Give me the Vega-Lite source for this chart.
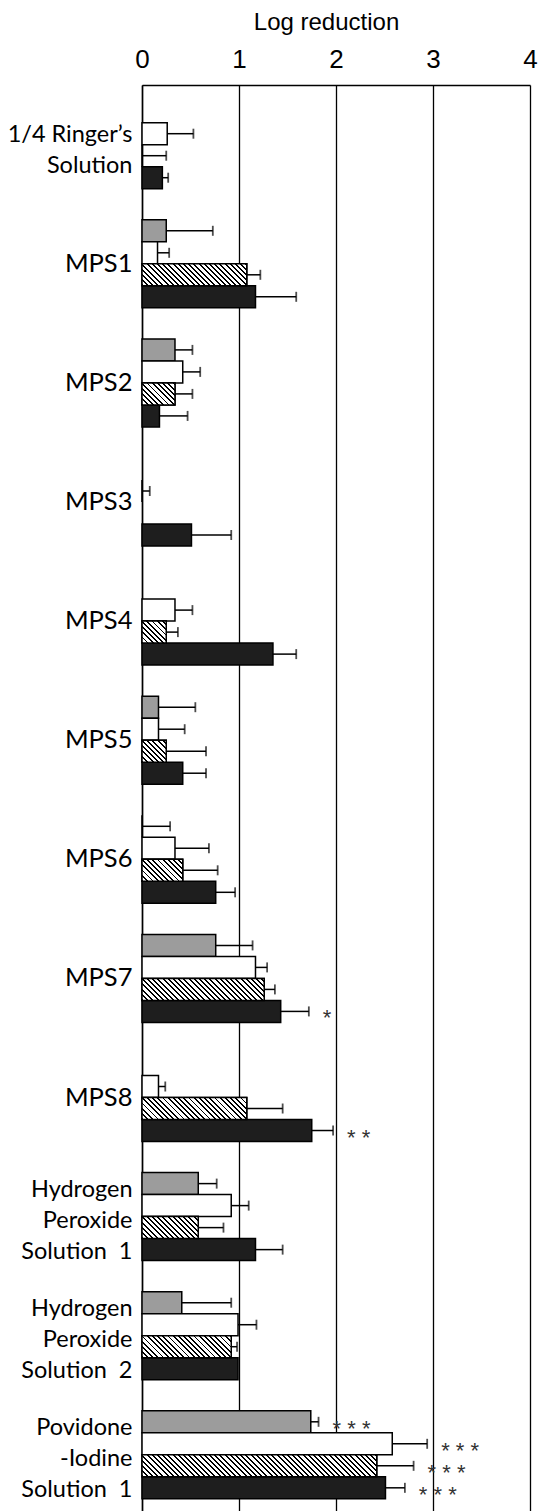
{
  "$schema": "https://vega.github.io/schema/vega-lite/v6.json",
  "autosize": "none",
  "padding": {"left": 142, "top": 85, "right": 8, "bottom": 0},
  "width": 388,
  "height": 1426,
  "background": "white",
  "config": {"view": {"stroke": null}},
  "params": [{"name": "hs", "value": [
    {"offset":0,"color":"#000"},{"offset":0.007,"color":"#000"},{"offset":0.007,"color":"#fff"},{"offset":0.02,"color":"#fff"},
    {"offset":0.02,"color":"#000"},{"offset":0.027,"color":"#000"},{"offset":0.027,"color":"#fff"},{"offset":0.04,"color":"#fff"},
    {"offset":0.04,"color":"#000"},{"offset":0.047,"color":"#000"},{"offset":0.047,"color":"#fff"},{"offset":0.06,"color":"#fff"},
    {"offset":0.06,"color":"#000"},{"offset":0.067,"color":"#000"},{"offset":0.067,"color":"#fff"},{"offset":0.08,"color":"#fff"},
    {"offset":0.08,"color":"#000"},{"offset":0.087,"color":"#000"},{"offset":0.087,"color":"#fff"},{"offset":0.1,"color":"#fff"},
    {"offset":0.1,"color":"#000"},{"offset":0.107,"color":"#000"},{"offset":0.107,"color":"#fff"},{"offset":0.12,"color":"#fff"},
    {"offset":0.12,"color":"#000"},{"offset":0.127,"color":"#000"},{"offset":0.127,"color":"#fff"},{"offset":0.14,"color":"#fff"},
    {"offset":0.14,"color":"#000"},{"offset":0.147,"color":"#000"},{"offset":0.147,"color":"#fff"},{"offset":0.16,"color":"#fff"},
    {"offset":0.16,"color":"#000"},{"offset":0.167,"color":"#000"},{"offset":0.167,"color":"#fff"},{"offset":0.18,"color":"#fff"},
    {"offset":0.18,"color":"#000"},{"offset":0.187,"color":"#000"},{"offset":0.187,"color":"#fff"},{"offset":0.2,"color":"#fff"},
    {"offset":0.2,"color":"#000"},{"offset":0.207,"color":"#000"},{"offset":0.207,"color":"#fff"},{"offset":0.22,"color":"#fff"},
    {"offset":0.22,"color":"#000"},{"offset":0.227,"color":"#000"},{"offset":0.227,"color":"#fff"},{"offset":0.24,"color":"#fff"},
    {"offset":0.24,"color":"#000"},{"offset":0.247,"color":"#000"},{"offset":0.247,"color":"#fff"},{"offset":0.26,"color":"#fff"},
    {"offset":0.26,"color":"#000"},{"offset":0.267,"color":"#000"},{"offset":0.267,"color":"#fff"},{"offset":0.28,"color":"#fff"},
    {"offset":0.28,"color":"#000"},{"offset":0.287,"color":"#000"},{"offset":0.287,"color":"#fff"},{"offset":0.3,"color":"#fff"},
    {"offset":0.3,"color":"#000"},{"offset":0.307,"color":"#000"},{"offset":0.307,"color":"#fff"},{"offset":0.32,"color":"#fff"},
    {"offset":0.32,"color":"#000"},{"offset":0.327,"color":"#000"},{"offset":0.327,"color":"#fff"},{"offset":0.34,"color":"#fff"},
    {"offset":0.34,"color":"#000"},{"offset":0.347,"color":"#000"},{"offset":0.347,"color":"#fff"},{"offset":0.36,"color":"#fff"},
    {"offset":0.36,"color":"#000"},{"offset":0.367,"color":"#000"},{"offset":0.367,"color":"#fff"},{"offset":0.38,"color":"#fff"},
    {"offset":0.38,"color":"#000"},{"offset":0.387,"color":"#000"},{"offset":0.387,"color":"#fff"},{"offset":0.4,"color":"#fff"},
    {"offset":0.4,"color":"#000"},{"offset":0.407,"color":"#000"},{"offset":0.407,"color":"#fff"},{"offset":0.42,"color":"#fff"},
    {"offset":0.42,"color":"#000"},{"offset":0.427,"color":"#000"},{"offset":0.427,"color":"#fff"},{"offset":0.44,"color":"#fff"},
    {"offset":0.44,"color":"#000"},{"offset":0.447,"color":"#000"},{"offset":0.447,"color":"#fff"},{"offset":0.46,"color":"#fff"},
    {"offset":0.46,"color":"#000"},{"offset":0.467,"color":"#000"},{"offset":0.467,"color":"#fff"},{"offset":0.48,"color":"#fff"},
    {"offset":0.48,"color":"#000"},{"offset":0.487,"color":"#000"},{"offset":0.487,"color":"#fff"},{"offset":0.5,"color":"#fff"},
    {"offset":0.5,"color":"#000"},{"offset":0.507,"color":"#000"},{"offset":0.507,"color":"#fff"},{"offset":0.52,"color":"#fff"},
    {"offset":0.52,"color":"#000"},{"offset":0.527,"color":"#000"},{"offset":0.527,"color":"#fff"},{"offset":0.54,"color":"#fff"},
    {"offset":0.54,"color":"#000"},{"offset":0.547,"color":"#000"},{"offset":0.547,"color":"#fff"},{"offset":0.56,"color":"#fff"},
    {"offset":0.56,"color":"#000"},{"offset":0.567,"color":"#000"},{"offset":0.567,"color":"#fff"},{"offset":0.58,"color":"#fff"},
    {"offset":0.58,"color":"#000"},{"offset":0.587,"color":"#000"},{"offset":0.587,"color":"#fff"},{"offset":0.6,"color":"#fff"},
    {"offset":0.6,"color":"#000"},{"offset":0.607,"color":"#000"},{"offset":0.607,"color":"#fff"},{"offset":0.62,"color":"#fff"},
    {"offset":0.62,"color":"#000"},{"offset":0.627,"color":"#000"},{"offset":0.627,"color":"#fff"},{"offset":0.64,"color":"#fff"},
    {"offset":0.64,"color":"#000"},{"offset":0.647,"color":"#000"},{"offset":0.647,"color":"#fff"},{"offset":0.66,"color":"#fff"},
    {"offset":0.66,"color":"#000"},{"offset":0.667,"color":"#000"},{"offset":0.667,"color":"#fff"},{"offset":0.68,"color":"#fff"},
    {"offset":0.68,"color":"#000"},{"offset":0.687,"color":"#000"},{"offset":0.687,"color":"#fff"},{"offset":0.7,"color":"#fff"},
    {"offset":0.7,"color":"#000"},{"offset":0.707,"color":"#000"},{"offset":0.707,"color":"#fff"},{"offset":0.72,"color":"#fff"},
    {"offset":0.72,"color":"#000"},{"offset":0.727,"color":"#000"},{"offset":0.727,"color":"#fff"},{"offset":0.74,"color":"#fff"},
    {"offset":0.74,"color":"#000"},{"offset":0.747,"color":"#000"},{"offset":0.747,"color":"#fff"},{"offset":0.76,"color":"#fff"},
    {"offset":0.76,"color":"#000"},{"offset":0.767,"color":"#000"},{"offset":0.767,"color":"#fff"},{"offset":0.78,"color":"#fff"},
    {"offset":0.78,"color":"#000"},{"offset":0.787,"color":"#000"},{"offset":0.787,"color":"#fff"},{"offset":0.8,"color":"#fff"},
    {"offset":0.8,"color":"#000"},{"offset":0.807,"color":"#000"},{"offset":0.807,"color":"#fff"},{"offset":0.82,"color":"#fff"},
    {"offset":0.82,"color":"#000"},{"offset":0.827,"color":"#000"},{"offset":0.827,"color":"#fff"},{"offset":0.84,"color":"#fff"},
    {"offset":0.84,"color":"#000"},{"offset":0.847,"color":"#000"},{"offset":0.847,"color":"#fff"},{"offset":0.86,"color":"#fff"},
    {"offset":0.86,"color":"#000"},{"offset":0.867,"color":"#000"},{"offset":0.867,"color":"#fff"},{"offset":0.88,"color":"#fff"},
    {"offset":0.88,"color":"#000"},{"offset":0.887,"color":"#000"},{"offset":0.887,"color":"#fff"},{"offset":0.9,"color":"#fff"},
    {"offset":0.9,"color":"#000"},{"offset":0.907,"color":"#000"},{"offset":0.907,"color":"#fff"},{"offset":0.92,"color":"#fff"},
    {"offset":0.92,"color":"#000"},{"offset":0.927,"color":"#000"},{"offset":0.927,"color":"#fff"},{"offset":0.94,"color":"#fff"},
    {"offset":0.94,"color":"#000"},{"offset":0.947,"color":"#000"},{"offset":0.947,"color":"#fff"},{"offset":0.96,"color":"#fff"},
    {"offset":0.96,"color":"#000"},{"offset":0.967,"color":"#000"},{"offset":0.967,"color":"#fff"},{"offset":0.98,"color":"#fff"},
    {"offset":0.98,"color":"#000"},{"offset":0.987,"color":"#000"},{"offset":0.987,"color":"#fff"},{"offset":1,"color":"#fff"}
  ]}],
  "data": {"values": [
    {"group": "1/4 Ringer’s Solution", "series": "B", "value": 0.26, "err": 0.53},
    {"group": "1/4 Ringer’s Solution", "series": "C", "value": 0, "err": 0.25},
    {"group": "1/4 Ringer’s Solution", "series": "D", "value": 0.21, "err": 0.27},
    {"group": "MPS1", "series": "A", "value": 0.25, "err": 0.73},
    {"group": "MPS1", "series": "B", "value": 0.16, "err": 0.28},
    {"group": "MPS1", "series": "C", "value": 1.08, "err": 1.22},
    {"group": "MPS1", "series": "D", "value": 1.17, "err": 1.59},
    {"group": "MPS2", "series": "A", "value": 0.34, "err": 0.52},
    {"group": "MPS2", "series": "B", "value": 0.42, "err": 0.6},
    {"group": "MPS2", "series": "C", "value": 0.34, "err": 0.52},
    {"group": "MPS2", "series": "D", "value": 0.18, "err": 0.47},
    {"group": "MPS3", "series": "B", "value": 0, "err": 0.08},
    {"group": "MPS3", "series": "D", "value": 0.51, "err": 0.92},
    {"group": "MPS4", "series": "B", "value": 0.34, "err": 0.52},
    {"group": "MPS4", "series": "C", "value": 0.25, "err": 0.37},
    {"group": "MPS4", "series": "D", "value": 1.35, "err": 1.59},
    {"group": "MPS5", "series": "A", "value": 0.17, "err": 0.55},
    {"group": "MPS5", "series": "B", "value": 0.17, "err": 0.44},
    {"group": "MPS5", "series": "C", "value": 0.25, "err": 0.66},
    {"group": "MPS5", "series": "D", "value": 0.42, "err": 0.66},
    {"group": "MPS6", "series": "A", "value": 0, "err": 0.29},
    {"group": "MPS6", "series": "B", "value": 0.34, "err": 0.69},
    {"group": "MPS6", "series": "C", "value": 0.42, "err": 0.78},
    {"group": "MPS6", "series": "D", "value": 0.76, "err": 0.96},
    {"group": "MPS7", "series": "A", "value": 0.76, "err": 1.14},
    {"group": "MPS7", "series": "B", "value": 1.17, "err": 1.29},
    {"group": "MPS7", "series": "C", "value": 1.26, "err": 1.37},
    {"group": "MPS7", "series": "D", "value": 1.43, "err": 1.72, "sig": "*"},
    {"group": "MPS8", "series": "B", "value": 0.17, "err": 0.24},
    {"group": "MPS8", "series": "C", "value": 1.08, "err": 1.45},
    {"group": "MPS8", "series": "D", "value": 1.75, "err": 1.97, "sig": "* *"},
    {"group": "Hydrogen Peroxide Solution 1", "series": "A", "value": 0.58, "err": 0.77},
    {"group": "Hydrogen Peroxide Solution 1", "series": "B", "value": 0.92, "err": 1.1},
    {"group": "Hydrogen Peroxide Solution 1", "series": "C", "value": 0.58, "err": 0.84},
    {"group": "Hydrogen Peroxide Solution 1", "series": "D", "value": 1.17, "err": 1.45},
    {"group": "Hydrogen Peroxide Solution 2", "series": "A", "value": 0.41, "err": 0.92},
    {"group": "Hydrogen Peroxide Solution 2", "series": "B", "value": 0.99, "err": 1.18},
    {"group": "Hydrogen Peroxide Solution 2", "series": "C", "value": 0.92, "err": 0.98},
    {"group": "Hydrogen Peroxide Solution 2", "series": "D", "value": 0.99, "err": null},
    {"group": "Povidone-Iodine Solution 1", "series": "A", "value": 1.74, "err": 1.82, "sig": "* * *"},
    {"group": "Povidone-Iodine Solution 1", "series": "B", "value": 2.58, "err": 2.94, "sig": "* * *"},
    {"group": "Povidone-Iodine Solution 1", "series": "C", "value": 2.42, "err": 2.8, "sig": "* * *"},
    {"group": "Povidone-Iodine Solution 1", "series": "D", "value": 2.51, "err": 2.71, "sig": "* * *"}
  ]},
  "encoding": {
    "y": {
      "field": "group", "type": "nominal",
      "sort": ["1/4 Ringer’s Solution", "MPS1", "MPS2", "MPS3", "MPS4", "MPS5", "MPS6", "MPS7", "MPS8", "Hydrogen Peroxide Solution 1", "Hydrogen Peroxide Solution 2", "Povidone-Iodine Solution 1"],
      "scale": {"paddingInner": 0.261, "paddingOuter": 0.117, "align": 0.563},
      "axis": {
        "title": null, "domain": true, "domainColor": "black", "domainWidth": 1.5,
        "ticks": false, "labelPadding": 10, "labelFont": "Lato", "labelColor": "black",
        "labelFontSize": {"condition": {"test": "length(datum.value) < 6", "value": 25.5}, "value": 23.5},
        "labelOffset": {"condition": [
          {"test": "datum.value == '1/4 Ringer’s Solution'", "value": -10},
          {"test": "length(datum.value) > 20", "value": -27}
        ], "value": 0},
        "labelLineHeight": 31, "labelLimit": 300,
        "labelExpr": "datum.value == '1/4 Ringer’s Solution' ? ['1/4 Ringer’s', 'Solution'] : indexof(datum.value, 'Hydrogen') == 0 ? ['Hydrogen', 'Peroxide', 'Solution\u00a0 ' + slice(datum.value, -1)] : indexof(datum.value, 'Povidone') == 0 ? ['Povidone', '-Iodine', 'Solution\u00a0 1'] : datum.value"
      }
    },
    "yOffset": {"field": "series", "type": "nominal", "scale": {"domain": ["A", "B", "C", "D"], "paddingInner": 0, "paddingOuter": 0}}
  },
  "layer": [
    {
      "mark": {"type": "bar", "stroke": "black", "strokeWidth": 1.5, "orient": "horizontal"},
      "encoding": {
        "x": {"field": "value", "type": "quantitative",
          "scale": {"domain": [0, 4], "nice": false},
          "axis": {
            "orient": "top", "values": [0, 1, 2, 3, 4], "format": "d", "title": "Log reduction",
            "domain": true, "domainColor": "black", "domainWidth": 1.5,
            "grid": true, "gridColor": "black", "gridWidth": 1.3, "gridOpacity": 1,
            "ticks": false, "labelPadding": 13, "labelFont": "Liberation Sans", "labelFontSize": 26,
            "labelColor": "black", "labelFlush": false,
            "titleFont": "Liberation Sans", "titleFontSize": 24, "titleFontWeight": "normal", "titleColor": "black",
            "titleX": 184, "titleY": -56, "titleAlign": "center", "titleBaseline": "alphabetic", "titleAngle": 0
          }
        },
        "fill": {"field": "series", "type": "nominal", "legend": null,
          "scale": {"domain": ["A", "B", "C", "D"], "range": ["#9c9c9c", "#ffffff", "#ffffff", "#1e1e1e"]}}
      }
    },
    {
      "transform": [{"filter": "datum.series == 'C' && datum.value > 0"}],
      "mark": {"type": "bar", "stroke": "black", "strokeWidth": 1.5, "orient": "horizontal",
        "fill": {"expr": "{gradient: 'linear', x1: 0, y1: 1, x2: scale('x', datum.value) * 260 / (pow(scale('x', datum.value), 2) + 484), y2: 1 - 22 * 260 / (pow(scale('x', datum.value), 2) + 484), stops: hs}"}},
      "encoding": {
        "x": {"field": "value", "type": "quantitative"}
      }
    },
    {
      "transform": [{"filter": "datum.err != null"}],
      "mark": {"type": "rule", "color": "black", "strokeWidth": 1.5},
      "encoding": {
        "x": {"field": "value", "type": "quantitative"},
        "x2": {"field": "err"}
      }
    },
    {
      "transform": [{"filter": "datum.err != null"}],
      "mark": {"type": "tick", "color": "black", "thickness": 1.8, "size": 10, "orient": "vertical"},
      "encoding": {
        "x": {"field": "err", "type": "quantitative"}
      }
    },
    {
      "transform": [{"filter": "datum.sig != null"}],
      "mark": {"type": "text", "align": "left", "baseline": "middle", "dx": 14, "dy": 7, "font": "Liberation Sans", "fontSize": 22, "color": "#333333"},
      "encoding": {
        "x": {"field": "err", "type": "quantitative"},
        "text": {"field": "sig"}
      }
    }
  ]
}
